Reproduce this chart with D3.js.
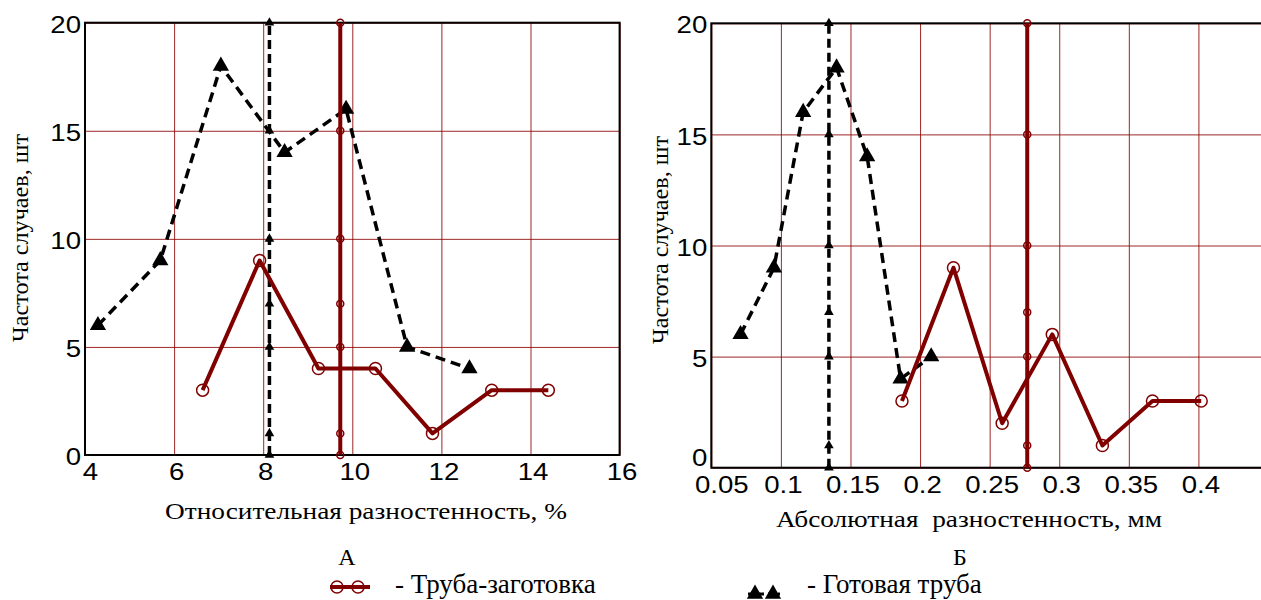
<!DOCTYPE html>
<html>
<head>
<meta charset="utf-8">
<script src="https://cdn.jsdelivr.net/npm/d3@7"></script>
<style>
  body { margin: 0; background: #fff; }
  svg { display: block; }
</style>
</head>
<body>
<svg id="fig" width="1261" height="600"></svg>
<script>
// общие
const yTicks = [0, 5, 10, 15, 20]
const meanMarks = [0, 1, 5, 7, 10, 15, 20]

// А - относительная разностенность, %
const ticksA = [4, 6, 8, 10, 12, 14, 16]
const blankA_x = [6.64, 7.92, 9.24, 10.52, 11.8, 13.13, 14.4]
const blankA_y = [3, 9, 4, 4, 1, 3, 3]
const finishA_x = [4.29, 5.69, 7.05, 8.48, 9.86, 11.23, 12.63]
const finishA_y = [6, 9, 18, 14, 16, 5, 4]
const meanBlankA = 9.73
const meanFinishA = 8.14

// Б - абсолютная разностенность, мм
const ticksB = [0.05, 0.1, 0.15, 0.2, 0.25, 0.3, 0.35, 0.4]
const tickLabelsB = ['0.05', '0.1', '0.15', '0.2', '0.25', '0.3', '0.35', '0.4']
const blankB_x = [0.187, 0.224, 0.259, 0.295, 0.331, 0.367, 0.402]
const blankB_y = [3, 9, 2, 6, 1, 3, 3]
const finishB_x = [0.071, 0.095, 0.116, 0.14, 0.162, 0.186, 0.208]
const finishB_y = [6, 9, 16, 18, 14, 4, 5]
const meanBlankB = 0.277
const meanFinishB = 0.1345

const red = '#800000'
const gridColor = '#8b0000'
const sans = 'Liberation Sans, Arial, sans-serif'
const serif = 'Liberation Serif, Times New Roman, serif'
const stretch = 1.15

let svg = d3.select('#fig')
svg.append('rect').attr('width', 1261).attr('height', 600).attr('fill', '#fff')

function panel(o) {
  let x = d3.scaleLinear().domain(o.xDomain).range(o.xRange)
  let y = d3.scaleLinear().domain([0, 20]).range(o.yRange)
  let g = svg.append('g')
  let h = o.yRange[0] - o.yRange[1]
  let w = o.xRange[1] - o.xRange[0]

  // сетка + подписи по x
  let ax = g.append('g')
    .attr('transform', `translate(0,${o.yRange[0]})`)
    .call(d3.axisBottom(x).tickValues(o.ticks).tickFormat((d, i) => o.labels[i])
      .tickSize(-h).tickPadding(o.xPad))
  ax.select('.domain').remove()
  ax.selectAll('line').attr('stroke', gridColor).attr('stroke-width', 1).attr('opacity', 0.85)
  ax.selectAll('text')
    .attr('font-family', sans).attr('font-size', 24).attr('fill', '#000')
    .attr('transform', `scale(${stretch},1)`)
    .attr('x', (d, i) => (i === 0 ? o.firstDx : 2) / stretch)

  // сетка + подписи по y
  let ay = g.append('g')
    .attr('transform', `translate(${o.xRange[0]},0)`)
    .call(d3.axisLeft(y).tickValues(yTicks).tickSize(-w).tickPadding(4))
  ay.select('.domain').remove()
  ay.selectAll('line').attr('stroke', gridColor).attr('stroke-width', 1).attr('opacity', 0.85)
  ay.selectAll('text')
    .attr('font-family', sans).attr('font-size', 24).attr('fill', '#000')
    .attr('transform', `scale(${stretch},1)`)
    .attr('x', -4 / stretch)
    .attr('y', d => (d === 0 ? o.zeroDy : 0))
    .attr('dy', '0.4em')

  // рамка
  g.append('rect')
    .attr('x', o.xRange[0]).attr('y', o.yRange[1])
    .attr('width', w).attr('height', h)
    .attr('fill', 'none').attr('stroke', '#000').attr('stroke-width', 2)

  let line = d3.line().x(d => x(d[0])).y(d => y(d[1]))

  // готовая труба
  let fin = d3.zip(o.finX, o.finY)
  g.append('path').datum(fin).attr('d', line)
    .attr('fill', 'none').attr('stroke', '#000').attr('stroke-width', 3.5)
    .attr('stroke-dasharray', '10,6')
  g.selectAll('.tri').data(fin).enter().append('path')
    .attr('d', d3.symbol(d3.symbolTriangle, 115))
    .attr('transform', d => `translate(${x(d[0])},${y(d[1])})`)
    .attr('fill', '#000')

  // среднее - готовая труба
  g.append('line')
    .attr('x1', x(o.meanFin)).attr('x2', x(o.meanFin))
    .attr('y1', y(0)).attr('y2', y(20))
    .attr('stroke', '#000').attr('stroke-width', 3.5).attr('stroke-dasharray', '9,5')
  g.selectAll('.mtri').data(meanMarks).enter().append('path')
    .attr('d', d3.symbol(d3.symbolTriangle, 40))
    .attr('transform', d => `translate(${x(o.meanFin)},${y(d)})`)
    .attr('fill', '#000')

  // труба-заготовка
  let bl = d3.zip(o.blX, o.blY)
  g.append('path').datum(bl).attr('d', line)
    .attr('fill', 'none').attr('stroke', red).attr('stroke-width', 4)
    .attr('stroke-linejoin', 'round')
  g.selectAll('.circ').data(bl).enter().append('circle')
    .attr('cx', d => x(d[0])).attr('cy', d => y(d[1])).attr('r', 6)
    .attr('fill', 'none').attr('stroke', red).attr('stroke-width', 1.5)

  // среднее - заготовка
  g.append('line')
    .attr('x1', x(o.meanBl)).attr('x2', x(o.meanBl))
    .attr('y1', y(0)).attr('y2', y(20))
    .attr('stroke', red).attr('stroke-width', 4)
  g.selectAll('.mcirc').data(meanMarks).enter().append('circle')
    .attr('cx', x(o.meanBl)).attr('cy', d => y(d)).attr('r', 3.5)
    .attr('fill', 'none').attr('stroke', red).attr('stroke-width', 1.5)

  // подписи осей
  svg.append('text')
    .attr('transform', `translate(${o.yTitleX},${o.yTitleY}) rotate(-90)`)
    .attr('text-anchor', 'middle')
    .attr('font-family', serif).attr('font-size', 23)
    .attr('textLength', 208).attr('lengthAdjust', 'spacingAndGlyphs')
    .text('Частота случаев, шт')
  svg.append('text')
    .attr('x', o.xTitleX).attr('y', o.xTitleY)
    .attr('text-anchor', 'middle')
    .attr('font-family', serif).attr('font-size', 23)
    .attr('textLength', o.xTitleLen).attr('lengthAdjust', 'spacingAndGlyphs')
    .style('white-space', 'pre')
    .text(o.xTitle)
  svg.append('text')
    .attr('x', o.letterX).attr('y', 565)
    .attr('text-anchor', 'middle')
    .attr('font-family', serif).attr('font-size', 24)
    .text(o.letter)
}

panel({
  xDomain: [4, 16], xRange: [85, 619.6], yRange: [455, 22.7],
  ticks: ticksA, labels: ticksA.map(String), xPad: 8, firstDx: 5, zeroDy: 0,
  finX: finishA_x, finY: finishA_y, meanFin: meanFinishA,
  blX: blankA_x, blY: blankA_y, meanBl: meanBlankA,
  yTitleX: 28, yTitleY: 238,
  xTitle: 'Относительная разностенность, %', xTitleX: 366, xTitleY: 519, xTitleLen: 402,
  letter: 'А', letterX: 347
})

panel({
  xDomain: [0.05, 0.45], xRange: [711.3, 1268], yRange: [467.7, 23.3],
  ticks: ticksB, labels: tickLabelsB, xPad: 8, firstDx: 10, zeroDy: -12,
  finX: finishB_x, finY: finishB_y, meanFin: meanFinishB,
  blX: blankB_x, blY: blankB_y, meanBl: meanBlankB,
  yTitleX: 668, yTitleY: 240,
  xTitle: 'Абсолютная  разностенность, мм', xTitleX: 969, xTitleY: 527, xTitleLen: 386,
  letter: 'Б', letterX: 960
})

// легенда
let lg = svg.append('g')
lg.append('line').attr('x1', 330).attr('x2', 370).attr('y1', 587).attr('y2', 587)
  .attr('stroke', red).attr('stroke-width', 4)
lg.selectAll('.lc').data([337, 358]).enter().append('circle')
  .attr('cx', d => d).attr('cy', 587).attr('r', 6)
  .attr('fill', 'none').attr('stroke', red).attr('stroke-width', 1.5)
lg.append('text').attr('x', 395).attr('y', 593)
  .attr('font-family', serif).attr('font-size', 27)
  .text('- Труба-заготовка')

lg.append('line').attr('x1', 748).attr('x2', 780).attr('y1', 594).attr('y2', 594)
  .attr('stroke', '#000').attr('stroke-width', 3).attr('stroke-dasharray', '6,4')
lg.selectAll('.lt').data([755, 773]).enter().append('path')
  .attr('d', d3.symbol(d3.symbolTriangle, 115))
  .attr('transform', d => `translate(${d},594)`)
  .attr('fill', '#000')
lg.append('text').attr('x', 807).attr('y', 593)
  .attr('font-family', serif).attr('font-size', 27)
  .text('- Готовая труба')
</script>
</body>
</html>
